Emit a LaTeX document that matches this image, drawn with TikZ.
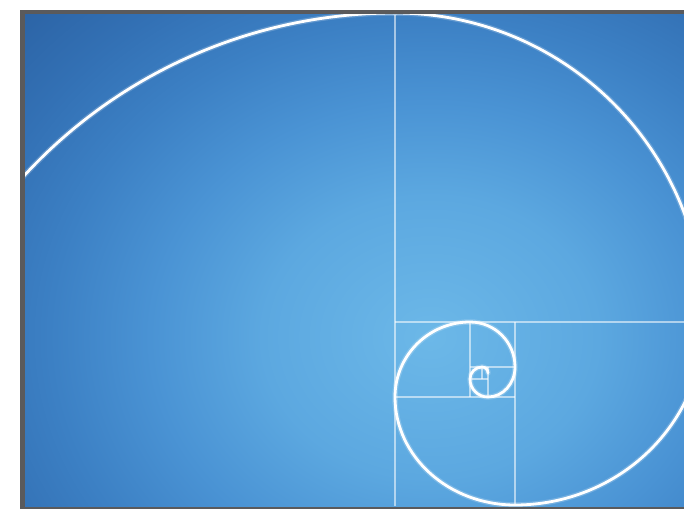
\documentclass[tikz,border=0pt]{standalone}
\definecolor{frameg}{HTML}{5A5A5C}
\definecolor{cA}{HTML}{6CB8E8}
\definecolor{cB}{HTML}{5CA8E0}
\definecolor{cC}{HTML}{4A93D4}
\definecolor{cD}{HTML}{3C80C4}
\definecolor{cE}{HTML}{3371B5}
\definecolor{cF}{HTML}{2C64A6}
\pgfdeclareradialshading{bgshade}{\pgfpoint{0bp}{0bp}}{color(0bp)=(cA); color(7.5bp)=(cB); color(12.5bp)=(cC); color(17bp)=(cD); color(21bp)=(cE); color(25bp)=(cF); color(50bp)=(cF)}
\begin{document}
\begin{tikzpicture}[x=1pt,y=1pt,
  gridln/.style={draw=white, line width=1.7pt, draw opacity=0.55},
  spiralln/.style={draw=white, line width=2.8pt, line cap=round},
  glowln/.style={draw=white, line width=5.5pt, draw opacity=0.2, line cap=round}]
\useasboundingbox (0,0) rectangle (684,509);
\fill[white] (0,0) rectangle (684,509);
\fill[frameg] (20,0) rectangle (684,499);
\begin{scope}
\clip (25,3) rectangle (684,494);
\shade[shading=bgshade] (430,172) ellipse [x radius=560, y radius=470];
% squares
\draw[gridln] (395,3) -- (395,494);
\draw[gridln] (395,187) -- (684,187);
\draw[gridln] (515,3) -- (515,187);
\draw[gridln] (395,112) -- (515,112);
\draw[gridln] (470,112) -- (470,187);
\draw[gridln] (470,142) -- (515,142);
\draw[gridln] (488,112) -- (488,142);
\draw[gridln] (470,130) -- (488,130);
\draw[gridln] (482,130) -- (482,142);
% spiral
\foreach \sty in {glowln,spiralln}{
\draw[\sty] (395,496) arc[start angle=90, end angle=140, radius=504];
\draw[\sty] (395,496) arc[start angle=90, end angle=0, radius=309]
  arc[start angle=0, end angle=-90, x radius=189, y radius=183]
  arc[start angle=-90, end angle=-180, x radius=120, y radius=108]
  arc[start angle=180, end angle=90, radius=75]
  arc[start angle=90, end angle=0, radius=45]
  arc[start angle=0, end angle=-90, x radius=27, y radius=30]
  arc[start angle=-90, end angle=-180, radius=18]
  arc[start angle=180, end angle=90, radius=12]
  arc[start angle=90, end angle=0, radius=6];
}
\end{scope}
\end{tikzpicture}
\end{document}
